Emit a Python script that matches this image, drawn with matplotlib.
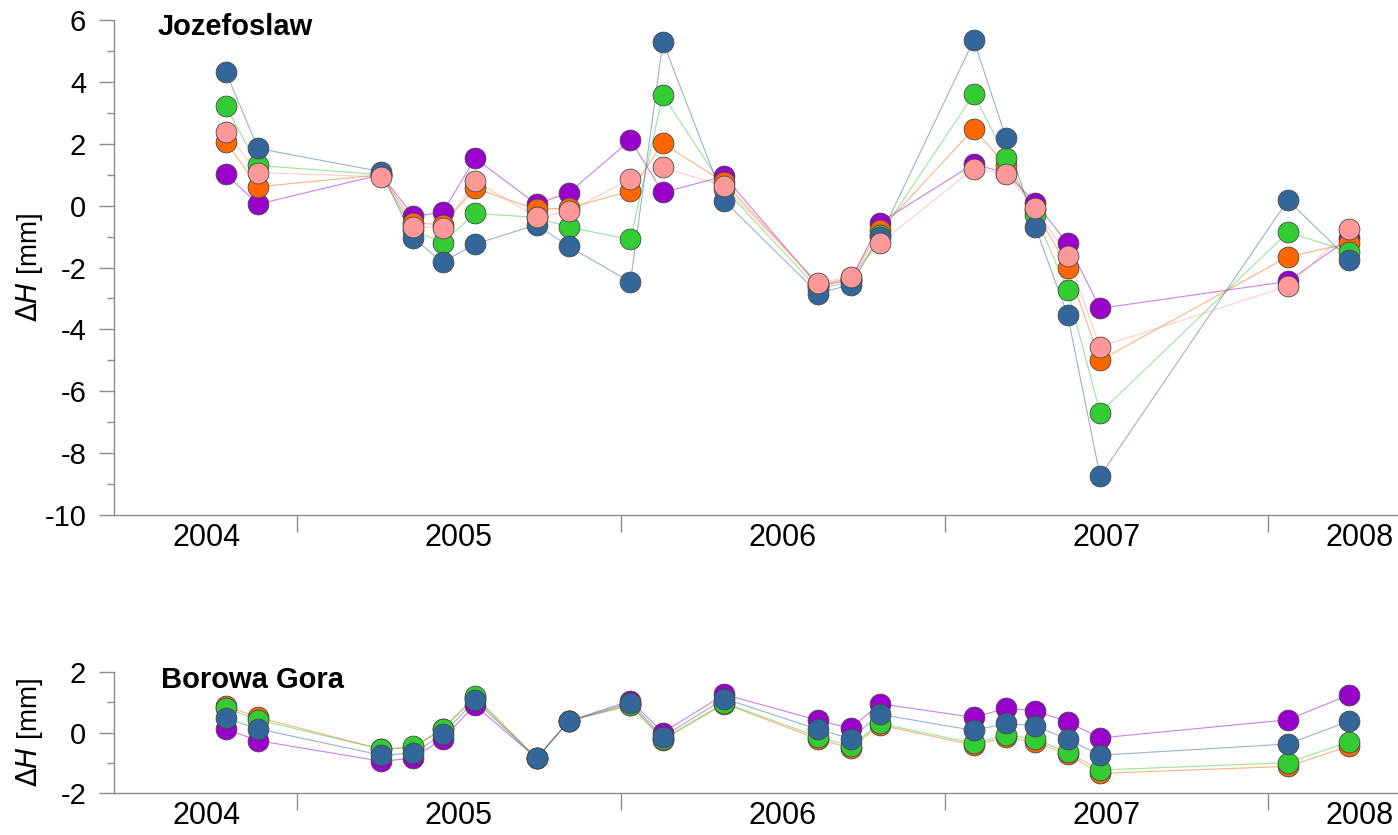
import matplotlib
matplotlib.use("Agg")
import matplotlib.pyplot as plt
from matplotlib.ticker import MultipleLocator

plt.rcParams["font.family"] = ["Liberation Sans", "DejaVu Sans"]
plt.rcParams["axes.unicode_minus"] = False

# epoch dates (decimal years)
dates = [2004.78, 2004.88, 2005.26, 2005.36, 2005.45, 2005.55, 2005.74, 2005.84,
         2006.03, 2006.13, 2006.32, 2006.61, 2006.71, 2006.80, 2007.09, 2007.19,
         2007.28, 2007.38, 2007.48, 2008.06, 2008.25]

# Jozefoslaw, height changes [mm]
joz_purple = [1.02, 0.05, 1.0, -0.34, -0.22, 1.53, 0.05, 0.42, 2.12, 0.43, 0.95,
              -2.6, -2.4, -0.55, 1.35, 1.05, 0.1, -1.22, -3.32, -2.45, -1.05]
joz_orange = [2.07, 0.61, 1.0, -0.55, -0.62, 0.56, -0.12, -0.08, 0.48, 2.01, 0.75,
              -2.55, -2.35, -0.79, 2.48, 1.3, -0.15, -2.0, -5.0, -1.65, -1.22]
joz_green = [3.22, 1.3, 1.0, -0.8, -1.2, -0.25, -0.38, -0.7, -1.09, 3.57, 0.55,
             -2.7, -2.45, -0.95, 3.6, 1.55, -0.3, -2.74, -6.69, -0.86, -1.49]
joz_blue = [4.33, 1.85, 1.1, -1.06, -1.83, -1.24, -0.62, -1.32, -2.47, 5.3, 0.15,
            -2.84, -2.55, -1.02, 5.35, 2.18, -0.68, -3.55, -8.74, 0.18, -1.76]
joz_pink = [2.37, 1.07, 0.93, -0.68, -0.71, 0.8, -0.37, -0.18, 0.86, 1.24, 0.62,
            -2.5, -2.3, -1.22, 1.2, 1.02, -0.08, -1.63, -4.56, -2.6, -0.77]

# Borowa Gora, height changes [mm]
bor_purple = [0.11, -0.27, -0.95, -0.85, -0.2, 0.9, -0.85, 0.38, 1.05, 0.0, 1.26,
              0.4, 0.14, 0.95, 0.5, 0.8, 0.72, 0.35, -0.18, 0.42, 1.25]
bor_orange = [0.88, 0.5, -0.55, -0.5, 0.1, 1.15, -0.85, 0.38, 0.9, -0.25, 0.95,
              -0.22, -0.52, 0.25, -0.42, -0.15, -0.32, -0.72, -1.35, -1.12, -0.45]
bor_green = [0.81, 0.42, -0.55, -0.46, 0.12, 1.2, -0.85, 0.38, 0.92, -0.22, 0.98,
             -0.15, -0.45, 0.3, -0.36, -0.08, -0.22, -0.66, -1.24, -1.0, -0.3]
bor_blue = [0.47, 0.12, -0.75, -0.68, -0.06, 1.06, -0.85, 0.38, 0.98, -0.14, 1.12,
            0.1, -0.2, 0.6, 0.07, 0.3, 0.22, -0.22, -0.75, -0.38, 0.38]

year_bounds = [2005, 2006, 2007, 2008]
year_label_pos = [2004.72, 2005.5, 2006.5, 2007.5, 2008.28]
year_labels = ["2004", "2005", "2006", "2007", "2008"]

PURPLE, ORANGE, GREEN, BLUE, PINK = "#9900CC", "#FF6600", "#33CC33", "#336699", "#FF9999"
AXIS_GREY = "#8c8c8c"


def draw_series(ax, series):
    for vals, col in series:
        ax.plot(dates, vals, color=col, lw=0.8, alpha=0.5, zorder=2)
    for vals, col in series:
        ax.plot(dates, vals, ls="none", marker="o", ms=15, mfc=col,
                mec="#4a4a4a", mew=0.6, zorder=3)


def style_axes(ax, ylim, station, title_xy):
    ax.set_xlim(2004.435, 2008.40)
    ax.set_ylim(*ylim)
    for side in ("top", "right"):
        ax.spines[side].set_visible(False)
    for side in ("left", "bottom"):
        ax.spines[side].set_color(AXIS_GREY)
        ax.spines[side].set_linewidth(1.0)
    ax.yaxis.set_major_locator(MultipleLocator(2))
    ax.yaxis.set_minor_locator(MultipleLocator(1))
    ax.tick_params(axis="y", which="major", length=11, width=1.0, color=AXIS_GREY,
                   labelsize=21, pad=9)
    ax.tick_params(axis="y", which="minor", length=5, width=1.0, color=AXIS_GREY)
    ax.set_xticks(year_bounds)
    ax.set_xticklabels([])
    ax.set_xticks(year_label_pos, minor=True)
    ax.set_xticklabels(year_labels, minor=True)
    ax.tick_params(axis="x", which="major", length=12, width=1.0, color=AXIS_GREY)
    ax.tick_params(axis="x", which="minor", length=0, labelsize=22, pad=6)
    ax.set_ylabel(r"$\Delta$$\it{H}$ [mm]", fontsize=20)
    ax.yaxis.set_label_coords(-0.054, 0.5)
    ax.text(*title_xy, station, transform=ax.transAxes, fontsize=21,
            fontweight="bold", ha="left", va="center")


fig = plt.figure(figsize=(13.98, 8.35), dpi=100)
ax_top = fig.add_axes([0.0815, 0.3832, 1 - 0.0815, 0.5928])
ax_bot = fig.add_axes([0.0815, 0.0503, 1 - 0.0815, 0.1449])

draw_series(ax_top, [(joz_purple, PURPLE), (joz_orange, ORANGE), (joz_green, GREEN),
                     (joz_blue, BLUE), (joz_pink, PINK)])
style_axes(ax_top, (-10, 6), "Jozefoslaw", (0.034, 0.985))

draw_series(ax_bot, [(bor_purple, PURPLE), (bor_orange, ORANGE), (bor_green, GREEN),
                     (bor_blue, BLUE)])
style_axes(ax_bot, (-2, 2), "Borowa Gora", (0.037, 0.93))

for ax in (ax_top, ax_bot):
    for line in ax.lines:
        line.set_clip_on(False)

fig.savefig("out.png", dpi=100)
